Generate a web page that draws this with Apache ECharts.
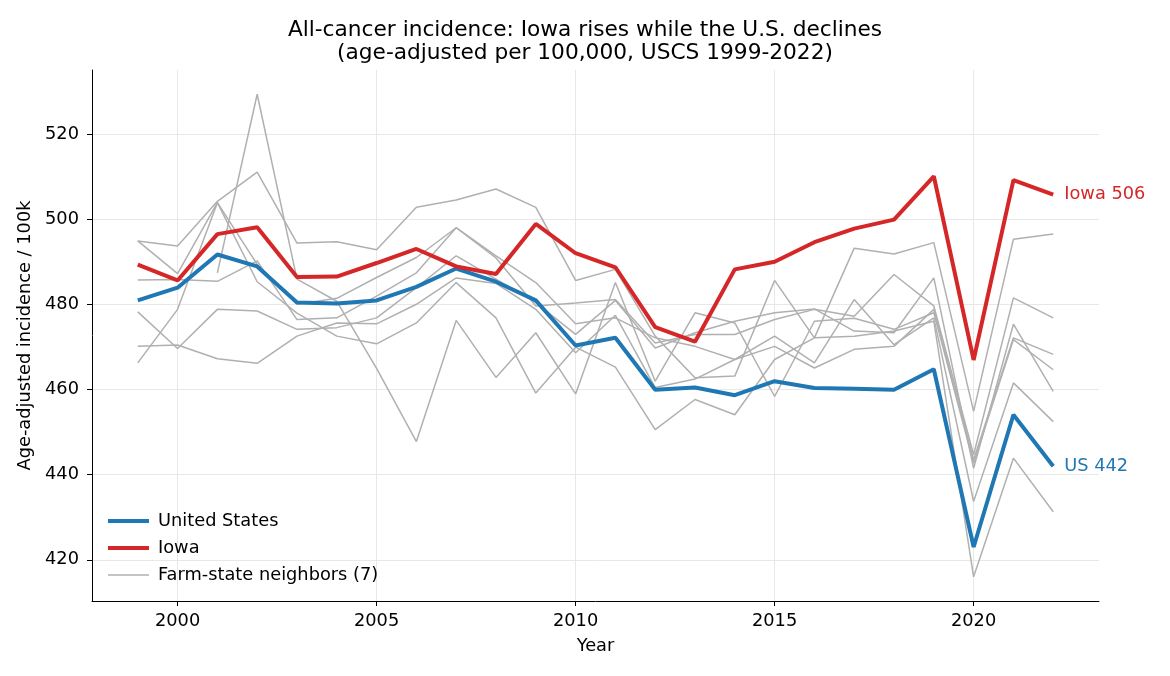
<!DOCTYPE html>
<html>
<head>
<meta charset="utf-8">
<script src="https://cdn.jsdelivr.net/npm/echarts@6/dist/echarts.min.js"></script>
<style>
html,body{margin:0;padding:0;background:#fff;}
#chart{width:1170px;height:676px;}
</style>
</head>
<body>
<div id="chart"></div>
<script>
const years = [1999,2000,2001,2002,2003,2004,2005,2006,2007,2008,2009,2010,2011,2012,2013,2014,2015,2016,2017,2018,2019,2020,2021,2022];
const usValues = [481.0,484.0,491.8,489.0,480.5,480.3,481.0,484.2,488.5,485.4,481.0,470.4,472.2,460.0,460.5,458.7,462.0,460.4,460.2,460.0,464.8,423.0,454.1,442.0];
const iowaValues = [489.4,485.7,496.6,498.2,486.5,486.6,489.8,493.1,489.0,487.2,499.0,492.1,488.8,474.7,471.3,488.3,490.1,494.7,497.9,500.0,510.2,467.0,509.3,505.9];
const neighbor1 = [495.0,493.8,504.3,511.2,494.5,494.8,492.9,502.9,504.6,507.2,502.9,485.7,488.3,472.6,462.8,463.2,485.7,472.2,493.3,491.9,494.6,454.9,495.4,496.6];
const neighbor2 = [null,null,487.5,529.5,486.0,480.8,465.0,447.8,476.3,462.9,473.4,459.0,485.2,462.0,478.1,475.7,458.4,476.1,476.8,474.2,478.1,442.7,471.8,464.7];
const neighbor3 = [495.0,487.3,504.0,489.5,480.1,481.5,486.4,491.1,498.1,491.0,479.7,480.4,481.2,471.0,473.0,473.0,476.5,478.9,477.3,487.1,479.7,444.7,481.6,476.9];
const neighbor4 = [485.8,485.9,485.5,490.3,476.5,476.9,482.0,487.5,498.1,491.5,485.2,475.5,476.9,472.2,470.2,467.1,472.6,466.3,481.2,470.6,476.9,433.7,461.6,452.5];
const neighbor5 = [478.3,469.7,478.9,478.5,474.2,474.6,476.9,484.0,491.5,486.0,480.5,473.0,481.0,469.8,473.4,476.1,478.1,479.0,473.8,473.4,486.3,441.5,475.4,459.6];
const neighbor6 = [470.2,470.5,467.3,466.2,472.6,475.7,475.5,480.1,486.3,485.0,478.9,468.7,477.5,460.5,462.5,467.1,470.2,465.1,469.5,470.2,478.9,443.5,472.2,468.3];
const neighbor7 = [466.3,478.9,504.0,485.4,478.0,472.6,470.8,475.7,485.2,476.9,459.2,470.0,465.3,450.6,457.7,454.1,467.1,472.2,472.6,473.8,476.1,416.0,443.9,431.3];
const neighbors = [neighbor1,neighbor2,neighbor3,neighbor4,neighbor5,neighbor6,neighbor7];
const xTicks = [2000,2005,2010,2015,2020];
const yTicks = [420,440,460,480,500,520];
const titleText = 'All-cancer incidence: Iowa rises while the U.S. declines\n(age-adjusted per 100,000, USCS 1999-2022)';
const neighborName = 'Farm-state neighbors (7)';

const FONT = 'DejaVu Sans';
const FS = 17.8;
const GRAY = '#b0b0b0', BLUE = '#1f77b4', RED = '#d62728';
const pairs = arr => years.map((y,i)=>[y,arr[i]]);

const series = [];
neighbors.forEach(arr => {
  series.push({
    name: neighborName, type: 'line', data: pairs(arr), symbol: 'none',
    connectNulls: false, silent: true, z: 2,
    lineStyle: {color: GRAY, width: 1.5},
    itemStyle: {color: GRAY}
  });
});
series.push({
  name: 'United States', type: 'line', data: pairs(usValues), symbol: 'none', z: 3,
  lineStyle: {color: BLUE, width: 4}, itemStyle: {color: BLUE},
  endLabel: {show: true, formatter: () => 'US ' + Math.round(usValues[usValues.length-1]),
    color: BLUE, fontFamily: FONT, fontSize: FS, distance: 11}
});
series.push({
  name: 'Iowa', type: 'line', data: pairs(iowaValues), symbol: 'none', z: 4,
  lineStyle: {color: RED, width: 4}, itemStyle: {color: RED},
  endLabel: {show: true, formatter: () => 'Iowa ' + Math.round(iowaValues[iowaValues.length-1]),
    color: RED, fontFamily: FONT, fontSize: FS, distance: 11}
});

const chart = echarts.init(document.getElementById('chart'), null, {renderer: 'canvas'});
chart.setOption({
  animation: false,
  backgroundColor: '#fff',
  textStyle: {fontFamily: FONT},
  title: {
    text: titleText, left: 'center', top: 14.5,
    textStyle: {fontFamily: FONT, fontSize: 21.7, fontWeight: 'normal', color: '#000', lineHeight: 22.6}
  },
  grid: {left: 92, right: 71, top: 70, bottom: 75, containLabel: false},
  legend: {
    data: [
      {name: 'United States', itemStyle: {opacity: 0}, lineStyle: {width: 4, color: BLUE}},
      {name: 'Iowa', itemStyle: {opacity: 0}, lineStyle: {width: 4, color: RED}},
      {name: neighborName, itemStyle: {opacity: 0}, lineStyle: {width: 1.5, color: GRAY}}
    ],
    orient: 'vertical', left: 101, top: 507, itemGap: 9,
    itemWidth: 41, itemHeight: 18,
    textStyle: {fontFamily: FONT, fontSize: FS, color: '#000', padding: [0,0,0,4]},
    selectedMode: false
  },
  xAxis: {
    type: 'value', min: 1997.85, max: 2023.15,
    name: 'Year', nameLocation: 'middle', nameGap: 36,
    nameTextStyle: {fontFamily: FONT, fontSize: FS, color: '#000'},
    axisLine: {show: true, onZero: false, lineStyle: {color: '#000', width: 1}},
    axisTick: {show: true, length: 5, lineStyle: {color: '#000'}, customValues: xTicks},
    axisLabel: {customValues: xTicks, formatter: v => String(v), fontFamily: FONT, fontSize: FS, color: '#000', margin: 11},
    splitLine: {show: true, lineStyle: {color: '#e8e8e8', width: 1}}
  },
  yAxis: {
    type: 'value', min: 410.3, max: 535.2,
    name: 'Age-adjusted incidence / 100k', nameLocation: 'middle', nameGap: 54,
    nameTextStyle: {fontFamily: FONT, fontSize: FS, color: '#000'},
    axisLine: {show: true, onZero: false, lineStyle: {color: '#000', width: 1}},
    axisTick: {show: true, length: 5, lineStyle: {color: '#000'}, customValues: yTicks},
    axisLabel: {customValues: yTicks, formatter: v => String(v), fontFamily: FONT, fontSize: FS, color: '#000', margin: 13},
    splitLine: {show: true, lineStyle: {color: '#e8e8e8', width: 1}}
  },
  series: series
});
</script>
</body>
</html>
